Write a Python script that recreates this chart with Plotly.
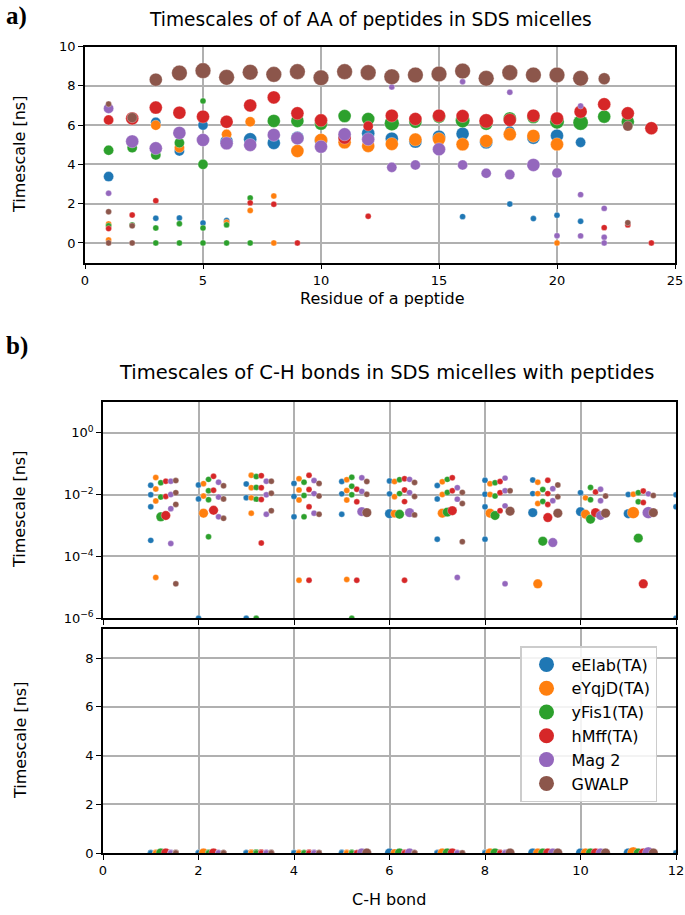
import math
import plotly.graph_objects as go

# ---------------- data ----------------
series_names = ["eElab(TA)", "eYqjD(TA)", "yFis1(TA)", "hMff(TA)", "Mag 2", "GWALP"]

# Panel a: (residue, timescale [ns], relative weight)
a_eElab = [(1, 3.38, .4), (3, 6.14, .4), (3, 1.26, .14), (4, 4.68, .4), (4, 1.27, .14), (5, 6.00, .4),
           (5, 1.02, .14), (6, 5.16, .66), (6, 1.14, .14), (7, 5.28, .66), (8, 5.09, .66), (9, 5.35, .66),
           (10, 5.20, .66), (11, 5.40, .66), (12, 5.58, .66), (13, 5.31, .66), (14, 5.16, .66), (15, 5.41, .66),
           (16, 5.56, .66), (16, 1.34, .14), (17, 5.12, .66), (18, 5.70, .4), (18, 1.98, .14), (19, 5.36, .66),
           (19, 1.24, .14), (20, 5.46, .66), (20, 1.41, .14), (21, 5.12, .4), (21, 1.10, .14)]
a_eYqjD = [(1, 0.97, .14), (1, 0.15, .14), (3, 5.99, .4), (4, 4.85, .4), (6, 5.53, .4), (6, 1.05, .14),
           (7, 6.17, .4), (7, 1.65, .14), (8, 2.39, .14), (8, 0.0, .14), (9, 4.68, .66), (10, 5.24, .66),
           (11, 5.12, .66), (12, 4.94, .66), (13, 5.04, .66), (14, 5.26, .66), (15, 5.29, .66), (16, 5.02, .66),
           (17, 5.19, .66), (18, 5.53, .66), (19, 5.45, .66), (20, 5.02, .66), (20, 0.0, .14)]
a_yFis1 = [(1, 4.72, .4), (1, 0.87, .14), (2, 4.85, .4), (2, 0.92, .14), (3, 4.48, .4), (3, 0.76, .14),
           (3, 0.0, .14), (4, 5.10, .4), (4, 0.98, .14), (4, 0.0, .14), (5, 7.23, .14), (5, 4.00, .4),
           (5, 0.76, .14), (5, 0.0, .14), (6, 0.92, .14), (6, 0.0, .14), (7, 2.29, .14), (7, 0.0, .14),
           (8, 6.21, .66), (9, 6.21, .66), (10, 6.07, .66), (11, 6.46, .66), (12, 6.31, .66), (13, 6.09, .85),
           (14, 6.17, .66), (15, 6.43, .66), (16, 6.23, .8), (17, 6.07, .66), (18, 6.34, .66), (19, 6.41, .66),
           (20, 6.17, .8), (21, 6.12, .9), (22, 6.43, .66), (23, 6.17, .66)]
a_hMff = [(1, 6.26, .4), (1, 0.73, .14), (2, 6.34, .66), (2, 1.42, .14), (3, 6.89, .66), (3, 2.15, .14),
          (4, 6.63, .66), (5, 6.43, .66), (6, 6.17, .66), (7, 7.00, .66), (7, 2.04, .14), (8, 7.41, .66),
          (8, 1.97, .14), (9, 6.60, .66), (9, 0.0, .14), (10, 6.24, .66), (11, 5.36, .66), (12, 5.95, .4),
          (12, 1.36, .14), (13, 6.48, .66), (14, 6.31, .66), (15, 6.48, .66), (16, 6.46, .66), (17, 6.21, .8),
          (18, 6.26, .66), (19, 6.48, .66), (20, 6.34, .66), (21, 6.68, .66), (22, 7.06, .66), (22, 0.78, .14),
          (23, 6.60, .66), (23, 0.92, .14), (24, 5.84, .66), (24, 0.0, .14)]
a_Mag2 = [(1, 6.85, .4), (1, 2.53, .14), (2, 5.17, .66), (3, 4.82, .66), (4, 5.60, .66), (5, 5.24, .66),
          (6, 5.07, .66), (7, 4.99, .66), (8, 5.50, .66), (9, 5.33, .66), (10, 4.90, .66), (11, 5.53, .66),
          (12, 5.28, .66), (13, 7.94, .14), (13, 3.85, .4), (14, 3.97, .4), (15, 4.77, .66), (16, 8.21, .14),
          (16, 3.97, .4), (17, 3.55, .4), (18, 7.67, .14), (18, 3.48, .4), (19, 3.97, .66), (20, 3.56, .4),
          (20, 0.37, .14), (21, 6.97, .14), (21, 2.46, .14), (21, 0.36, .14), (22, 1.76, .14), (22, 0.29, .14),
          (22, 0.0, .14)]
a_GWALP = [(1, 7.07, .14), (1, 1.59, .14), (1, 0.0, .14), (2, 6.38, .4), (2, 0.87, .14), (2, 0.0, .14),
           (3, 8.31, .66), (4, 8.65, .95), (5, 8.77, .95), (6, 8.43, .95), (7, 8.69, .95), (8, 8.58, .95),
           (9, 8.72, .95), (10, 8.41, .95), (11, 8.72, .95), (12, 8.67, .95), (13, 8.46, .95), (14, 8.55, .95),
           (15, 8.60, .95), (16, 8.75, .95), (17, 8.38, .95), (18, 8.67, .95), (19, 8.55, .95), (20, 8.55, .95),
           (21, 8.38, .95), (22, 8.36, .55), (23, 5.95, .4), (23, 1.03, .14)]

# Panel b: (C-H bond, timescale [ns], relative weight)
b_eElab = [(1, 2.0e-2, .14), (1, 9.8e-3, .14), (1, 4.0e-3, .14), (1, 3.3e-4, .14),
           (2, 2.04e-2, .14), (2, 7.2e-3, .14), (2, 1e-6, .14),
           (3, 2.19e-2, .14), (3, 7.9e-3, .14), (3, 1e-6, .14),
           (4, 2.29e-2, .14), (4, 8.7e-3, .14), (4, 1.9e-3, .14),
           (5, 2.63e-2, .14), (5, 1.05e-2, .14), (5, 2.3e-3, .14),
           (6, 2.75e-2, .14), (6, 1.05e-2, .14), (6, 2.4e-3, .35),
           (7, 1.95e-2, .14), (7, 7.2e-3, .14), (7, 3.6e-4, .14),
           (8, 2.88e-2, .14), (8, 1.02e-2, .14), (8, 4.0e-3, .14), (8, 3.6e-4, .14),
           (9, 2.95e-2, .14), (9, 1.07e-2, .14), (9, 2.6e-3, .35),
           (10, 1.15e-2, .14), (10, 2.8e-3, .35),
           (11, 1.0e-2, .14), (11, 2.4e-3, .35),
           (12, 9.8e-3, .14), (12, 4.0e-3, .14), (12, 1e-6, .14)]
b_eYqjD = [(1, 3.55e-2, .14), (1, 1.51e-2, .14), (1, 6.2e-3, .14), (1, 2.1e-5, .14),
           (2, 2.24e-2, .14), (2, 8.9e-3, .14), (2, 2.5e-3, .35),
           (3, 4.17e-2, .14), (3, 1.66e-2, .14), (3, 7.8e-3, .14), (3, 2.5e-3, .14),
           (4, 3.24e-2, .14), (4, 1.41e-2, .14), (4, 6.6e-3, .14), (4, 1.7e-5, .14),
           (5, 3.02e-2, .14), (5, 1.35e-2, .14), (5, 6.6e-3, .14), (5, 1.8e-5, .14),
           (6, 2.63e-2, .14), (6, 8.5e-3, .14), (6, 2.4e-3, .25),
           (7, 2.57e-2, .14), (7, 1.0e-2, .14), (7, 2.5e-3, .35),
           (8, 2.24e-2, .14), (8, 1.0e-2, .14), (8, 2.5e-3, .35),
           (9, 2.51e-2, .14), (9, 1.07e-2, .14), (9, 5.1e-3, .14), (9, 1.3e-5, .35),
           (10, 7.8e-3, .14), (10, 2.3e-3, .35),
           (11, 1.02e-2, .14), (11, 2.6e-3, .56)]
b_yFis1 = [(1, 2.4e-2, .14), (1, 8.3e-3, .14), (1, 1.9e-3, .35),
           (2, 3.09e-2, .14), (2, 1.32e-2, .14), (2, 6.8e-3, .14), (2, 4.3e-4, .14),
           (3, 3.8e-2, .14), (3, 1.7e-2, .14), (3, 7.1e-3, .14), (3, 1e-6, .14),
           (4, 2.51e-2, .14), (4, 9.3e-3, .14), (4, 1.9e-3, .14),
           (5, 3.63e-2, .14), (5, 1.86e-2, .14), (5, 9.8e-3, .14), (5, 1e-6, .14),
           (6, 3.02e-2, .14), (6, 1.07e-2, .14), (6, 2.3e-3, .35),
           (7, 3.09e-2, .14), (7, 1.17e-2, .14), (7, 2.7e-3, .35),
           (8, 2.4e-2, .14), (8, 8.9e-3, .14), (8, 2.1e-3, .35),
           (9, 1.45e-2, .14), (9, 6.0e-3, .14), (9, 3.1e-4, .35),
           (10, 1.7e-2, .14), (10, 6.8e-3, .14), (10, 1.6e-3, .35),
           (11, 1.15e-2, .14), (11, 5.8e-3, .14), (11, 3.9e-4, .35)]
b_hMff = [(1, 2.69e-2, .14), (1, 8.7e-3, .14), (1, 2.1e-3, .35),
          (2, 3.89e-2, .14), (2, 1.38e-2, .14), (2, 3.1e-3, .35),
          (3, 4.07e-2, .14), (3, 1.66e-2, .14), (3, 6.9e-3, .14), (3, 2.7e-4, .14),
          (4, 4.17e-2, .14), (4, 1.45e-2, .14), (4, 4.0e-3, .14), (4, 1.7e-5, .14),
          (5, 1.48e-2, .14), (5, 5.8e-3, .14), (5, 1.7e-5, .14),
          (6, 3.24e-2, .14), (6, 1.41e-2, .14), (6, 5.9e-3, .14), (6, 1.7e-5, .14),
          (7, 3.47e-2, .14), (7, 1.32e-2, .14), (7, 3.0e-3, .35),
          (8, 2.63e-2, .14), (8, 1.15e-2, .14), (8, 3.0e-3, .14),
          (9, 2.88e-2, .14), (9, 1.07e-2, .14), (9, 4.8e-3, .14), (9, 1.8e-3, .35),
          (10, 1.2e-2, .14), (10, 2.6e-3, .35),
          (11, 1.29e-2, .14), (11, 5.5e-3, .14), (11, 1.3e-5, .35)]
b_Mag2 = [(1, 2.69e-2, .14), (1, 1.0e-2, .14), (1, 3.5e-3, .14), (1, 2.6e-4, .14),
          (2, 2.51e-2, .14), (2, 8.3e-3, .14), (2, 1.9e-3, .14),
          (3, 2.69e-2, .14), (3, 9.8e-3, .14), (3, 2.3e-3, .14),
          (4, 2.82e-2, .14), (4, 1.07e-2, .14), (4, 2.5e-3, .14),
          (5, 3.47e-2, .14), (5, 1.26e-2, .14), (5, 2.8e-3, .35),
          (6, 3.09e-2, .14), (6, 1.15e-2, .14), (6, 2.6e-3, .35),
          (7, 1.66e-2, .14), (7, 7.1e-3, .14), (7, 2.1e-5, .14),
          (8, 3.39e-2, .14), (8, 1.32e-2, .14), (8, 4.3e-3, .14), (8, 1.3e-5, .14),
          (9, 1.55e-2, .14), (9, 6.3e-3, .14), (9, 2.8e-4, .35),
          (10, 1.48e-2, .14), (10, 6.3e-3, .14), (10, 2.1e-3, .35),
          (11, 1.05e-2, .14), (11, 2.6e-3, .56)]
b_GWALP = [(1, 2.82e-2, .14), (1, 1.15e-2, .14), (1, 4.8e-3, .14), (1, 1.3e-5, .14),
           (2, 1.91e-2, .14), (2, 7.2e-3, .14), (2, 1.7e-3, .14),
           (3, 2.69e-2, .14), (3, 1.1e-2, .14), (3, 3.0e-3, .14),
           (4, 2.29e-2, .14), (4, 8.9e-3, .14), (4, 2.3e-3, .14),
           (5, 2.63e-2, .14), (5, 1.02e-2, .14), (5, 2.6e-3, .35),
           (6, 2.45e-2, .14), (6, 8.7e-3, .14), (6, 2.2e-3, .14),
           (7, 1.17e-2, .14), (7, 5.1e-3, .14), (7, 3.0e-4, .14),
           (8, 1.32e-2, .14), (8, 2.9e-3, .35),
           (9, 2.04e-2, .14), (9, 8.5e-3, .14), (9, 2.5e-3, .35),
           (10, 8.9e-3, .14), (10, 2.5e-3, .35),
           (11, 9.3e-3, .14), (11, 2.6e-3, .35)]

panel_a = [a_eElab, a_eYqjD, a_yFis1, a_hMff, a_Mag2, a_GWALP]
panel_b = [b_eElab, b_eYqjD, b_yFis1, b_hMff, b_Mag2, b_GWALP]

# ---------------- styling ----------------
colors = ["#1f77b4", "#ff7f0e", "#2ca02c", "#d62728", "#9467bd", "#8c564b"]
W, H = 685, 915
FONT = "DejaVu Sans"


def msize(w):
    return 16 * math.sqrt(w)


def px_x(p):
    return p / W


def px_y(p):
    return 1 - p / H


EDGE = dict(width=0.5, color="rgba(255,255,255,0.6)")

fig = go.Figure()

for i, pts in enumerate(panel_a):
    fig.add_trace(go.Scatter(
        x=[p[0] for p in pts], y=[p[1] for p in pts], mode="markers",
        marker=dict(color=colors[i], size=[msize(p[2]) for p in pts], opacity=1, line=EDGE),
        xaxis="x", yaxis="y", showlegend=False, name=series_names[i]))

offset = 0.105
for ax in [("x2", "y2"), ("x3", "y3")]:
    for i, pts in enumerate(panel_b):
        fig.add_trace(go.Scatter(
            x=[p[0] + offset * i for p in pts], y=[p[1] for p in pts], mode="markers",
            marker=dict(color=colors[i], size=[msize(p[2]) for p in pts], opacity=1, line=EDGE),
            xaxis=ax[0], yaxis=ax[1], showlegend=False, name=series_names[i]))

for i, name in enumerate(series_names):
    fig.add_trace(go.Scatter(
        x=[None], y=[None], mode="markers", marker=dict(color=colors[i], size=15, opacity=1),
        xaxis="x3", yaxis="y3", name=name, legendgroup=name, showlegend=True))

common = dict(showline=True, linecolor="black", linewidth=1.6, mirror=True,
              ticks="outside", ticklen=5, tickwidth=1.4, tickcolor="black",
              showgrid=True, gridcolor="#b0b0b0", gridwidth=1.6, zeroline=False,
              automargin=False,
              tickfont=dict(family=FONT, size=13, color="black"))

fig.update_layout(
    width=W, height=H, margin=dict(l=0, r=0, t=0, b=0, autoexpand=False),
    plot_bgcolor="white", paper_bgcolor="white",
    font=dict(family=FONT, size=14, color="black"),
    xaxis=dict(domain=[px_x(85), px_x(675)], range=[0, 25], tickvals=[0, 5, 10, 15, 20, 25], anchor="y", **common),
    yaxis=dict(domain=[px_y(262.6), px_y(46.5)], range=[-1, 10], tickvals=[0, 2, 4, 6, 8, 10], anchor="x", **common),
    xaxis2=dict(domain=[px_x(103), px_x(676)], range=[0, 12], tickvals=[0, 2, 4, 6, 8, 10, 12],
                showticklabels=False, anchor="y2", **common),
    yaxis2=dict(domain=[px_y(618.3), px_y(401.7)], type="log", range=[-6, 1],
                tickvals=[1e-6, 1e-4, 1e-2, 1],
                ticktext=["10<sup>−6</sup>", "10<sup>−4</sup>", "10<sup>−2</sup>", "10<sup>0</sup>"],
                anchor="x2", **common),
    xaxis3=dict(domain=[px_x(103), px_x(676)], range=[0, 12], tickvals=[0, 2, 4, 6, 8, 10, 12], anchor="y3", **common),
    yaxis3=dict(domain=[px_y(853), px_y(629)], range=[0, 9.2], tickvals=[0, 2, 4, 6, 8], anchor="x3", **common),
    legend=dict(x=px_x(520), y=px_y(646), xanchor="left", yanchor="top",
                bgcolor="rgba(255,255,255,0.85)", bordercolor="#cccccc", borderwidth=1.5,
                font=dict(family=FONT, size=16, color="black"), tracegroupgap=0, itemwidth=40),
)

ann = [
    dict(text="<b>a)</b>", x=px_x(4), y=px_y(16), xanchor="left", yanchor="middle",
         font=dict(family="Liberation Serif", size=25)),
    dict(text="<b>b)</b>", x=px_x(4), y=px_y(346), xanchor="left", yanchor="middle",
         font=dict(family="Liberation Serif", size=25)),
    dict(text="Timescales of of AA of peptides in SDS micelles", x=px_x(370), y=px_y(19),
         xanchor="center", yanchor="middle", font=dict(family=FONT, size=18.6)),
    dict(text="Timescales of C-H bonds in SDS micelles with peptides", x=px_x(386), y=px_y(372),
         xanchor="center", yanchor="middle", font=dict(family=FONT, size=19.5)),
    dict(text="Residue of a peptide", x=px_x(382), y=px_y(298), xanchor="center", yanchor="middle",
         font=dict(family=FONT, size=16)),
    dict(text="C-H bond", x=px_x(389), y=px_y(899), xanchor="center", yanchor="middle",
         font=dict(family=FONT, size=16)),
    dict(text="Timescale [ns]", x=px_x(20), y=px_y(155), textangle=-90, xanchor="center", yanchor="middle",
         font=dict(family=FONT, size=16)),
    dict(text="Timescale [ns]", x=px_x(20), y=px_y(510), textangle=-90, xanchor="center", yanchor="middle",
         font=dict(family=FONT, size=16)),
    dict(text="Timescale [ns]", x=px_x(20), y=px_y(741), textangle=-90, xanchor="center", yanchor="middle",
         font=dict(family=FONT, size=16)),
]
for a in ann:
    a.update(xref="paper", yref="paper", showarrow=False)
fig.update_layout(annotations=ann)

fig.write_html("out.html", config={"displayModeBar": False},
               post_script="document.body.style.margin='0px';")
